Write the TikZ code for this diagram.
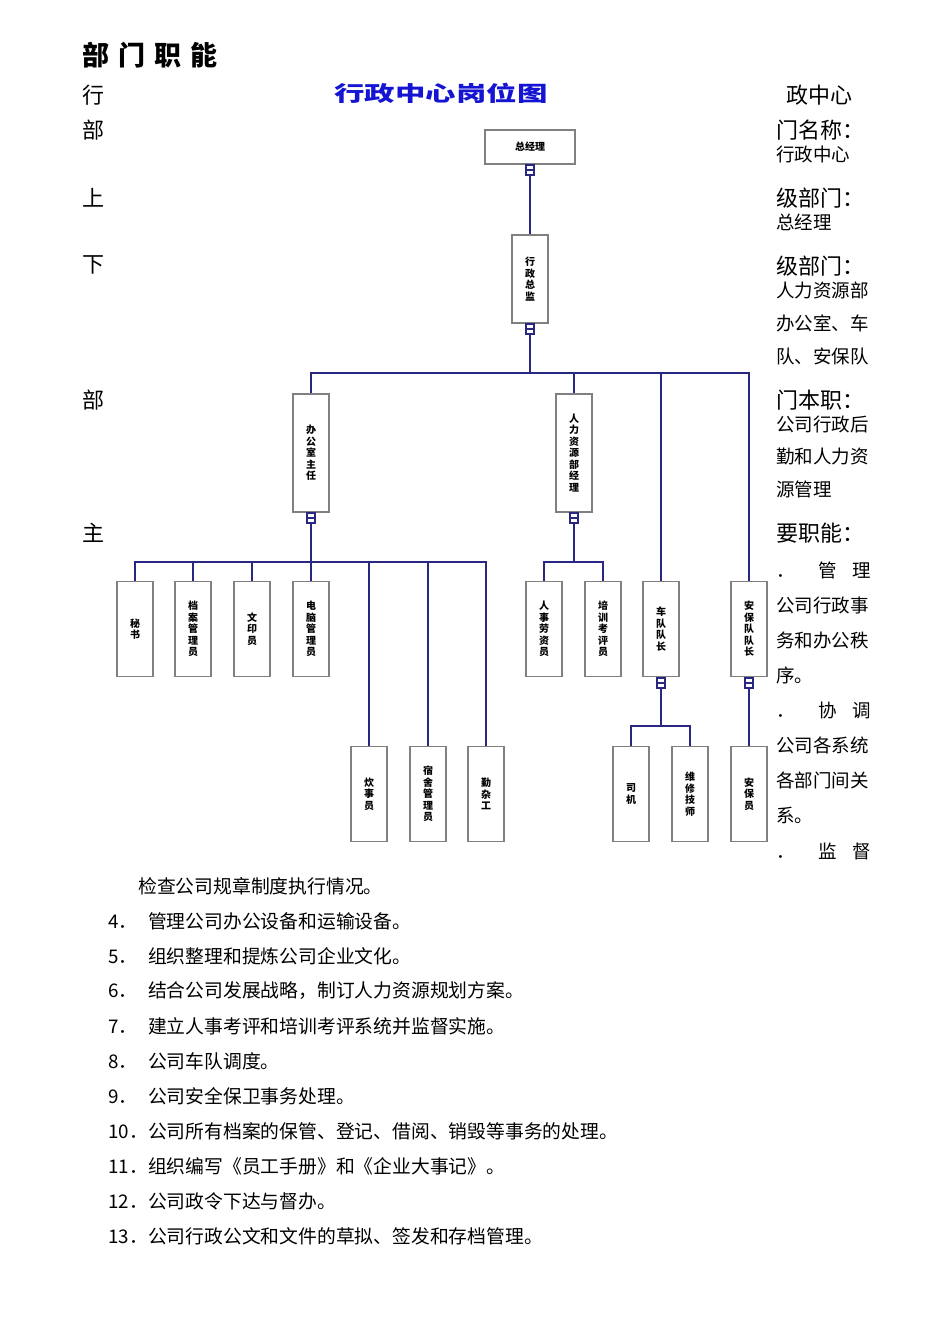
\documentclass[tikz,border=0pt]{standalone}
\usepackage{fontspec}
\setmainfont{Noto Sans CJK SC}
\usepackage{tikz}
\usetikzlibrary{positioning}
\definecolor{linkblue}{RGB}{40,40,130}
\definecolor{boxgray}{RGB}{128,128,128}
\definecolor{titleblue}{RGB}{20,20,210}

\begin{document}
\begin{tikzpicture}[x=1pt,y=-1pt,
post/.style={rectangle,draw=boxgray,line width=1.6pt,fill=white,inner sep=0pt,align=center,
        font=\fontsize{10}{11.5}\selectfont\bfseries},
tall/.style={post,minimum width=36pt,minimum height=118pt},
short/.style={post,minimum width=36pt,minimum height=95pt},
tab/.style={rectangle,draw=linkblue,fill=white,line width=1.2pt,minimum width=8pt,minimum height=10pt,inner sep=0pt,
        path picture={\draw[linkblue,line width=1.2pt] (path picture bounding box.west) -- (path picture bounding box.east);}},
link/.style={draw=linkblue,line width=1.4pt},
body/.style={anchor=west,inner sep=0pt,font=\fontsize{18.5}{18.5}\selectfont},
list/.style={anchor=west,inner sep=0pt,font=\fontsize{18.8}{18.8}\selectfont},
head/.style={anchor=west,inner sep=0pt,font=\fontsize{22}{22}\selectfont}]

\useasboundingbox (0,0) rectangle (950,1344);

% page text, left
\node[anchor=west,inner sep=0pt,font=\fontsize{27}{27}\selectfont\bfseries] (pagehead) at (82,55) {部\hspace{9pt}门\hspace{9pt}职\hspace{9pt}能};
\node[head] (l1) at (82,95) {行};
\node[head] (l2) at (82,130) {部};
\node[head] (l3) at (82,198) {上};
\node[head] (l4) at (82,265) {下};
\node[head] (l5) at (82,400) {部};
\node[head] (l6) at (82,533) {主};

% page text, right
\node[head] (r1) at (786,95) {政中心};
\node[head] (r2) at (776,130) {门名称：};
\node[body] (r3) at (776,154) {行政中心};
\node[head] (r4) at (776,198) {级部门：};
\node[body] (r5) at (776,222) {总经理};
\node[head] (r6) at (776,266) {级部门：};
\node[body] (r7) at (776,290) {人力资源部};
\node[body] (r8) at (776,323) {办公室、车};
\node[body] (r9) at (776,356) {队、安保队};
\node[head] (r10) at (776,400) {门本职：};
\node[body] (r11) at (776,424) {公司行政后};
\node[body] (r12) at (776,457) {勤和人力资};
\node[body] (r13) at (776,489) {源管理};
\node[head] (r14) at (776,533) {要职能：};
\node[body] (r15) at (776,570) {．\hspace{24pt}管\hspace{15pt}理};
\node[body] (r16) at (776,605) {公司行政事};
\node[body] (r17) at (776,640) {务和办公秩};
\node[body] (r18) at (776,675) {序。};
\node[body] (r19) at (776,710) {．\hspace{24pt}协\hspace{15pt}调};
\node[body] (r20) at (776,745) {公司各系统};
\node[body] (r21) at (776,780) {各部门间关};
\node[body] (r22) at (776,815) {系。};
\node[body] (r23) at (776,851) {．\hspace{24pt}监\hspace{15pt}督};

% page text, bottom
\node[list] (b3) at (138,886) {检查公司规章制度执行情况。};
\node[list] (b4) at (108,921) {\makebox[40pt][l]{4．}管理公司办公设备和运输设备。};
\node[list] (b5) at (108,956) {\makebox[40pt][l]{5．}组织整理和提炼公司企业文化。};
\node[list] (b6) at (108,991) {\makebox[40pt][l]{6．}结合公司发展战略，制订人力资源规划方案。};
\node[list] (b7) at (108,1026) {\makebox[40pt][l]{7．}建立人事考评和培训考评系统并监督实施。};
\node[list] (b8) at (108,1061) {\makebox[40pt][l]{8．}公司车队调度。};
\node[list] (b9) at (108,1096) {\makebox[40pt][l]{9．}公司安全保卫事务处理。};
\node[list] (b10) at (108,1131) {\makebox[40pt][l]{10．}公司所有档案的保管、登记、借阅、销毁等事务的处理。};
\node[list] (b11) at (108,1166) {\makebox[40pt][l]{11．}组织编写《员工手册》和《企业大事记》。};
\node[list] (b12) at (108,1201) {\makebox[40pt][l]{12．}公司政令下达与督办。};
\node[list] (b13) at (108,1236) {\makebox[40pt][l]{13．}公司行政公文和文件的草拟、签发和存档管理。};

% chart
\node[text=titleblue,inner sep=0pt] (title) at (441,93) {\scalebox{1.45}[1]{\fontsize{21}{21}\selectfont\bfseries 行政中心岗位图}};

\node[post,minimum width=90pt,minimum height=34pt] (gm) at (530,147) {总经理};
\node[tab] (gmt) at (530,170) {};
\node[post,minimum width=36pt,minimum height=88pt] (dir) at (530,279) {行\\政\\总\\监};
\node[tab] (dirt) at (530,329) {};

\node[tall] (off) at (311,453) {办\\公\\室\\主\\任};
\node[tab] (offt) at (311,518) {};
\node[tall] (hr) at (574,453) {人\\力\\资\\源\\部\\经\\理};
\node[tab] (hrt) at (574,518) {};

\node[short] (secy) at (135,629) {秘\\书};
\node[short] (arch) at (193,629) {档\\案\\管\\理\\员};
\node[short] (print) at (252,629) {文\\印\\员};
\node[short] (pcm) at (311,629) {电\\脑\\管\\理\\员};
\node[short] (hrpay) at (544,629) {人\\事\\劳\\资\\员};
\node[short] (train) at (603,629) {培\\训\\考\\评\\员};
\node[short] (fleet) at (661,629) {车\\队\\队\\长};
\node[tab] (fleett) at (661,683) {};
\node[short] (guard) at (749,629) {安\\保\\队\\队\\长};
\node[tab] (guardt) at (749,683) {};

\node[short] (cook) at (369,794) {炊\\事\\员};
\node[short] (dorm) at (428,794) {宿\\舍\\管\\理\\员};
\node[short] (odd) at (486,794) {勤\\杂\\工};
\node[short] (driver) at (631,794) {司\\机};
\node[short] (mech) at (690,794) {维\\修\\技\\师};
\node[short] (guardman) at (749,794) {安\\保\\员};

\coordinate (mbus) at (530,373);
\coordinate (obus) at (311,562);
\coordinate (hbus) at (574,562);
\coordinate (fbus) at (661,726);

\draw[link] (gmt) -- (dir);
\draw[link] (dirt) -- (mbus);
\foreach \n in {off,hr,fleet,guard}
    \draw[link] (mbus) -| (\n.north);
\draw[link] (offt) -- (obus);
\foreach \n in {secy,arch,print,pcm,cook,dorm,odd}
    \draw[link] (obus) -| (\n.north);
\draw[link] (hrt) -- (hbus);
\foreach \n in {hrpay,train}
    \draw[link] (hbus) -| (\n.north);
\draw[link] (fleett) -- (fbus);
\foreach \n in {driver,mech}
    \draw[link] (fbus) -| (\n.north);
\draw[link] (guardt) -- (guardman);

\end{tikzpicture}
\end{document}
